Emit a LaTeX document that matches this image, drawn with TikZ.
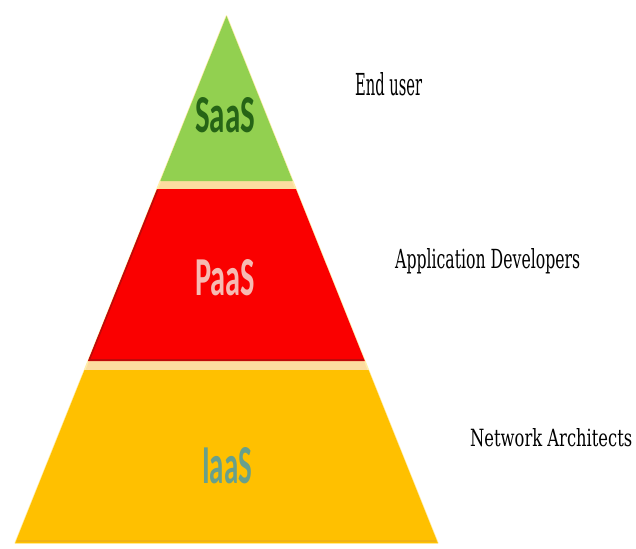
\documentclass[tikz,border=0pt]{standalone}
\usepackage{fontspec}
\usepackage{graphicx}
\setmainfont{DejaVu Serif}
\newfontfamily\tierfont{Carlito}
\definecolor{saasgreen}{RGB}{146,208,80}
\definecolor{paasred}{RGB}{250,0,0}
\definecolor{paasedge}{RGB}{190,10,10}
\definecolor{iaasgold}{RGB}{255,192,0}
\definecolor{iaasedge}{RGB}{240,178,20}
\definecolor{seam}{RGB}{252,220,160}
\definecolor{halo}{RGB}{255,238,170}
\definecolor{saastext}{RGB}{38,100,22}
\definecolor{paastext}{RGB}{246,186,178}
\definecolor{iaastext}{RGB}{104,160,140}
\tikzset{
  tier/.style={anchor=base, inner sep=0pt, font=\tierfont\bfseries},
  role/.style={anchor=base west, inner sep=0pt, text=black, font=\fontsize{20}{20}\selectfont}
}
\begin{document}
\begin{tikzpicture}[x=1pt, y=-1pt]
  \useasboundingbox[fill=white] (0,0) rectangle (636,548);
  % whole pyramid, showing through as the seams between tiers
  \fill[seam, draw=halo, line width=1.5pt, line join=round]
    (226.5,16) -- (437.8,543) -- (15.2,543) -- cycle;
  % top tier
  \fill[saasgreen] (226.5,16) -- (292.7,181) -- (160.3,181) -- cycle;
  % middle tier
  \fill[paasred] (157.1,189) -- (295.9,189) -- (364.8,361) -- (88.2,361) -- cycle;
  \draw[paasedge, line width=1.6pt] (157.6,190) -- (89.2,360) -- (364,360);
  % bottom tier
  \fill[iaasgold] (84.5,370) -- (368.5,370) -- (437.8,543) -- (15.2,543) -- cycle;
  \draw[iaasedge, line width=2pt] (17,540.5) -- (436,540.5);
  % tier names
  \node[tier, text=saastext] (saas) at (225,132) {\resizebox{60pt}{35pt}{SaaS}};
  \node[tier, text=paastext] (paas) at (225,295) {\resizebox{60pt}{36pt}{PaaS}};
  \node[tier, text=iaastext] (iaas) at (227,483) {\resizebox{50pt}{36pt}{IaaS}};
  % who works at each tier
  \node[role] (enduser) at (355,96) {\resizebox{67pt}{23pt}{End user}};
  \node[role] (appdev) at (395,268) {\resizebox{185pt}{20pt}{Application Developers}};
  \node[role] (netarch) at (470,446) {\resizebox{162pt}{18pt}{Network Architects}};
\end{tikzpicture}
\end{document}
